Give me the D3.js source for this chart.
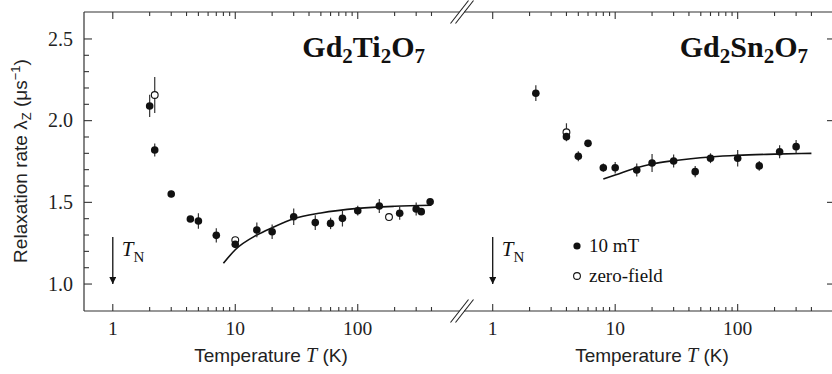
<!DOCTYPE html>
<html><head><meta charset="utf-8">
<script src="https://cdn.jsdelivr.net/npm/d3@7"></script>
<style>body{margin:0;background:#fff}svg{display:block}</style>
</head><body>
<svg id="c" width="832" height="374"></svg>
<script>
// ---- data ----
const tiT10 = [2.0, 2.2, 3.0, 4.3, 5.0, 7.0, 10, 15, 20, 30, 45, 60, 75, 100, 150, 220, 300, 330, 390];
const tiV10 = [2.09, 1.82, 1.551, 1.398, 1.386, 1.298, 1.243, 1.331, 1.32, 1.412, 1.376, 1.371, 1.402, 1.449, 1.478, 1.433, 1.459, 1.443, 1.504];
const tiE10 = [0.068, 0.04, 0.02, 0.015, 0.047, 0.043, 0.02, 0.045, 0.044, 0.05, 0.045, 0.035, 0.05, 0.03, 0.043, 0.04, 0.04, 0.02, 0.015];
const tiTzf = [2.2, 10, 180];
const tiVzf = [2.157, 1.269, 1.41];
const tiEzf = [0.11, 0, 0];
const tiFitT = [8, 10, 15, 20, 30, 50, 100, 200, 400];
const tiFitV = [1.127, 1.21, 1.30, 1.345, 1.40, 1.435, 1.463, 1.476, 1.482];

const snT10 = [2.25, 4.0, 5.0, 6.0, 8.0, 10, 15, 20, 30, 45, 60, 100, 150, 220, 300];
const snV10 = [2.168, 1.902, 1.782, 1.861, 1.712, 1.712, 1.698, 1.741, 1.753, 1.688, 1.77, 1.77, 1.723, 1.81, 1.841];
const snE10 = [0.048, 0.02, 0.03, 0.02, 0.025, 0.035, 0.04, 0.055, 0.04, 0.035, 0.03, 0.05, 0.03, 0.04, 0.04];
const snTzf = [4.0];
const snVzf = [1.929];
const snEzf = [0.055];
const snFitT = [8, 10, 15, 20, 30, 60, 100, 200, 400];
const snFitV = [1.643, 1.667, 1.712, 1.735, 1.755, 1.778, 1.788, 1.795, 1.80];

const xMajor = [1, 10, 100];
const xMinor = [2,3,4,5,6,7,8,9,20,30,40,50,60,70,80,90,200,300,400];
const yMajor = [1.0, 1.5, 2.0, 2.5];
const yMinor = [1.1,1.2,1.3,1.4,1.6,1.7,1.8,1.9,2.1,2.2,2.3,2.4];
const xTickLabels = ["1", "10", "100"];
const yTickLabels = ["1.0", "1.5", "2.0", "2.5"];

// ---- layout ----
const SERIF = "'Liberation Serif','Times New Roman',serif";
const SANS = "'Liberation Sans',Arial,Helvetica,sans-serif";
const pTop = 12, pBottom = 311, pLeft = 84, pRight = 832;
const svg = d3.select("#c");
const y = d3.scaleLinear().domain([0.835, 2.665]).range([pBottom, pTop]);
const xL = d3.scaleLog().domain([0.582, 671]).range([pLeft, 459]);
const xR = d3.scaleLog().domain([0.583, 589]).range([464, pRight]);

const defs = svg.append("defs");
defs.append("clipPath").attr("id","clipL").append("rect").attr("x",pLeft).attr("y",pTop).attr("width",459-pLeft).attr("height",pBottom-pTop);
defs.append("clipPath").attr("id","clipR").append("rect").attr("x",464).attr("y",pTop).attr("width",pRight-464).attr("height",pBottom-pTop);

// frame lines
const frame = svg.append("g").attr("stroke","#333").attr("stroke-width",1.2).attr("fill","none");
frame.append("line").attr("x1",pLeft).attr("x2",pLeft).attr("y1",pTop).attr("y2",pBottom);
[pTop,pBottom].forEach(yy=>{
  frame.append("line").attr("x1",pLeft).attr("x2",459.5).attr("y1",yy).attr("y2",yy);
  frame.append("line").attr("x1",464).attr("x2",pRight).attr("y1",yy).attr("y2",yy);
  [459.5,464.5].forEach(cx=>{
    svg.append("line").attr("x1",cx-9).attr("y1",yy+11.5).attr("x2",cx+9).attr("y2",yy-11.5)
      .attr("stroke","#222").attr("stroke-width",1.1);
  });
});

// x ticks
function xTicks(x){
  const g = svg.append("g").attr("stroke","#333").attr("stroke-width",1.1);
  xMajor.forEach(t=>{
    g.append("line").attr("x1",x(t)).attr("x2",x(t)).attr("y1",pBottom).attr("y2",pBottom-7);
    g.append("line").attr("x1",x(t)).attr("x2",x(t)).attr("y1",pTop).attr("y2",pTop+7);
  });
  xMinor.forEach(t=>{
    g.append("line").attr("x1",x(t)).attr("x2",x(t)).attr("y1",pBottom).attr("y2",pBottom-4);
    g.append("line").attr("x1",x(t)).attr("x2",x(t)).attr("y1",pTop).attr("y2",pTop+4);
  });
  xMajor.forEach((t,i)=>{
    svg.append("text").attr("x",x(t)).attr("y",335).attr("text-anchor","middle")
      .attr("font-family",SERIF).attr("font-size",19.5).attr("fill","#222").text(xTickLabels[i]);
  });
}
xTicks(xL); xTicks(xR);

// y ticks (left, with minor) and right (major only)
const gy = svg.append("g").attr("stroke","#333").attr("stroke-width",1.1);
yMajor.forEach(v=>{
  gy.append("line").attr("x1",pLeft).attr("x2",pLeft+8).attr("y1",y(v)).attr("y2",y(v));
  gy.append("line").attr("x1",pRight).attr("x2",pRight-5).attr("y1",y(v)).attr("y2",y(v));
});
yMinor.forEach(v=>{
  gy.append("line").attr("x1",pLeft).attr("x2",pLeft+5).attr("y1",y(v)).attr("y2",y(v));
});
yMajor.forEach((v,i)=>{
  svg.append("text").attr("x",73).attr("y",y(v)).attr("dy","0.34em").attr("text-anchor","end")
    .attr("font-family",SERIF).attr("font-size",20).attr("fill","#222").text(yTickLabels[i]);
});

// axis titles
function xTitle(cx){
  const t = svg.append("text").attr("x",cx).attr("y",362).attr("text-anchor","middle")
    .attr("font-family",SANS).attr("font-size",19).attr("fill","#222");
  t.append("tspan").text("Temperature ");
  t.append("tspan").attr("font-family",SERIF).attr("font-style","italic").attr("font-size",20).text("T");
  t.append("tspan").text(" (K)");
}
xTitle(271); xTitle(652);
const yt = svg.append("text").attr("transform","translate(27,161) rotate(-90)").attr("text-anchor","middle")
  .attr("font-family",SANS).attr("font-size",19).attr("fill","#222");
yt.append("tspan").text("Relaxation rate λ");
yt.append("tspan").attr("font-size",13).attr("dy",4).text("Z");
yt.append("tspan").attr("dy",-4).text(" (μs");
yt.append("tspan").attr("font-size",13).attr("dy",-7).text("−1");
yt.append("tspan").attr("dy",7).text(")");

// panel titles
function title(xEnd, parts){
  const t = svg.append("text").attr("x",xEnd).attr("y",57).attr("text-anchor","end")
    .attr("font-family",SERIF).attr("font-weight","bold").attr("font-size",30).attr("fill","#111");
  parts.forEach(p=>{
    if (p.sub) t.append("tspan").attr("font-size",21).attr("dy",6).text(p.s);
    else t.append("tspan").attr("dy", p.back ? -6 : 0).text(p.s);
  });
}
title(425, [{s:"Gd"},{s:"2",sub:true},{s:"Ti",back:true},{s:"2",sub:true},{s:"O",back:true},{s:"7",sub:true}]);
title(808, [{s:"Gd"},{s:"2",sub:true},{s:"Sn",back:true},{s:"2",sub:true},{s:"O",back:true},{s:"7",sub:true}]);

// T_N arrows
defs.append("marker").attr("id","ah").attr("viewBox","0 0 10 10").attr("refX",10).attr("refY",5)
  .attr("markerWidth",7).attr("markerHeight",7).attr("markerUnits","userSpaceOnUse").attr("orient","auto")
  .append("path").attr("d","M0,0L10,5L0,10Z").attr("fill","#111");
function tn(x){
  svg.append("line").attr("x1",x(1)).attr("x2",x(1)).attr("y1",237).attr("y2",y(1.0))
    .attr("stroke","#111").attr("stroke-width",1.3).attr("marker-end","url(#ah)");
  const t = svg.append("text").attr("x",x(1)+9).attr("y",256).attr("font-family",SERIF).attr("font-size",21).attr("fill","#111");
  t.append("tspan").attr("font-style","italic").text("T");
  t.append("tspan").attr("font-size",15).attr("dy",6).text("N");
}
tn(xL); tn(xR);

// data drawing
function panel(x, clip, T10, V10, E10, Tzf, Vzf, Ezf, fitT, fitV){
  const g = svg.append("g").attr("clip-path",`url(#${clip})`);
  const fit = fitT.map((t,i)=>[t,fitV[i]]);
  g.append("path").datum(fit).attr("fill","none").attr("stroke","#111").attr("stroke-width",1.6)
    .attr("d", d3.line().x(d=>x(d[0])).y(d=>y(d[1])).curve(d3.curveMonotoneX));
  const eb = (T,V,E)=>T.forEach((t,i)=>{ if(E[i]>0) g.append("line").attr("x1",x(t)).attr("x2",x(t))
      .attr("y1",y(V[i]-E[i])).attr("y2",y(V[i]+E[i])).attr("stroke","#333").attr("stroke-width",1.2); });
  eb(T10,V10,E10); eb(Tzf,Vzf,Ezf);
  g.selectAll(null).data(Tzf.map((t,i)=>[t,Vzf[i]])).enter().append("circle")
    .attr("cx",d=>x(d[0])).attr("cy",d=>y(d[1])).attr("r",3.4).attr("fill","#fff").attr("stroke","#111").attr("stroke-width",1.1);
  g.selectAll(null).data(T10.map((t,i)=>[t,V10[i]])).enter().append("circle")
    .attr("cx",d=>x(d[0])).attr("cy",d=>y(d[1])).attr("r",3.8).attr("fill","#111");
}
panel(xL,"clipL",tiT10,tiV10,tiE10,tiTzf,tiVzf,tiEzf,tiFitT,tiFitV);
panel(xR,"clipR",snT10,snV10,snE10,snTzf,snVzf,snEzf,snFitT,snFitV);

// legend
svg.append("circle").attr("cx",577).attr("cy",246).attr("r",3.6).attr("fill","#111");
svg.append("circle").attr("cx",577).attr("cy",276).attr("r",3.4).attr("fill","#fff").attr("stroke","#111").attr("stroke-width",1.1);
svg.append("text").attr("x",589).attr("y",252).attr("font-family",SERIF).attr("font-size",19).attr("fill","#111").text("10 mT");
svg.append("text").attr("x",589).attr("y",282).attr("font-family",SERIF).attr("font-size",19).attr("fill","#111").text("zero-field");
</script>
</body></html>
